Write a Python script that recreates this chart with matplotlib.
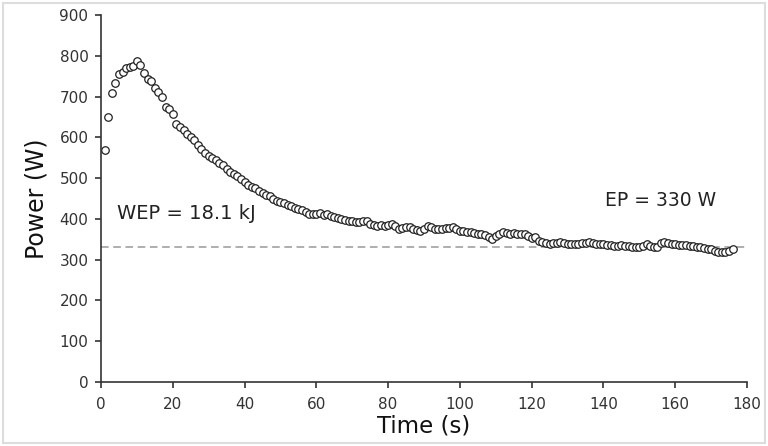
import numpy as np
import matplotlib.pyplot as plt
from matplotlib.patches import Rectangle

# power output per second of the 3-min all-out test
time_s = np.arange(1, 177)
power_w = [
    570, 651, 709, 732, 756, 760, 769, 772, 774, 787,
    778, 758, 743, 738, 721, 711, 700, 675, 670, 656,
    633, 625, 617, 609, 601, 593, 580, 572, 562, 555,
    550, 545, 538, 532, 523, 516, 510, 504, 498, 490,
    484, 479, 475, 468, 463, 458, 455, 448, 445, 441,
    439, 435, 432, 427, 425, 422, 417, 413, 412, 412,
    414, 410, 412, 407, 404, 401, 400, 398, 396, 395,
    393, 392, 394, 396, 388, 384, 383, 384, 383, 385,
    388, 382, 376, 377, 379, 379, 375, 373, 371, 376,
    382, 380, 376, 375, 374, 377, 378, 379, 374, 371,
    370, 368, 367, 366, 364, 363, 360, 356, 350, 357,
    364, 367, 365, 363, 366, 364, 363, 362, 358, 352,
    355, 346, 343, 340, 338, 340, 342, 343, 341, 339,
    338, 339, 338, 340, 342, 343, 341, 339, 338, 338,
    337, 335, 334, 334, 335, 334, 334, 332, 331, 330,
    334, 338, 333, 330, 332, 340, 343, 341, 339, 338,
    337, 336, 335, 334, 333, 331, 330, 329, 327, 325,
    322, 320, 319, 318, 322, 326,
]
end_power = 330
wep_label = "WEP = 18.1 kJ"
ep_label = "EP = 330 W"

fig = plt.figure(figsize=(7.68, 4.46), dpi=100)
ax = fig.add_axes([0.1315, 0.1435, 0.8412, 0.8229])

ax.plot([0, 180], [end_power, end_power], color='#999999', lw=1.1,
        dashes=(5, 3), zorder=1)
ax.plot(time_s, power_w, 'o', ms=5.4, mfc='white', mec='#222222', mew=0.9,
        zorder=2)

ax.text(4.5, 413, wep_label, fontsize=14, va='center', ha='left', color='#222222')
ax.text(140.4, 445, ep_label, fontsize=13.5, va='center', ha='left', color='#222222')

ax.set_xlim(0, 180)
ax.set_ylim(0, 900)
ax.set_xticks(np.arange(0, 181, 20))
ax.set_yticks(np.arange(0, 901, 100))
ax.set_xlabel("Time (s)", fontsize=16.5, labelpad=1.5, color='#111111')
ax.set_ylabel("Power (W)", fontsize=17, labelpad=8, color='#111111')
ax.spines['top'].set_visible(False)
ax.spines['right'].set_visible(False)
for side in ['left', 'bottom']:
    ax.spines[side].set_color('#333333')
    ax.spines[side].set_linewidth(1.2)
ax.tick_params(direction='out', length=4, width=1.2, color='#333333',
               labelsize=11, labelcolor='#333333')
ax.tick_params(axis='x', pad=7)
ax.tick_params(axis='y', pad=5)

fig.patches.append(Rectangle((3 / 768, 3 / 446), 762 / 768, 440 / 446,
                             transform=fig.transFigure, fill=False,
                             ec='#dddddd', lw=1.5))

fig.savefig("out.png", dpi=100)
